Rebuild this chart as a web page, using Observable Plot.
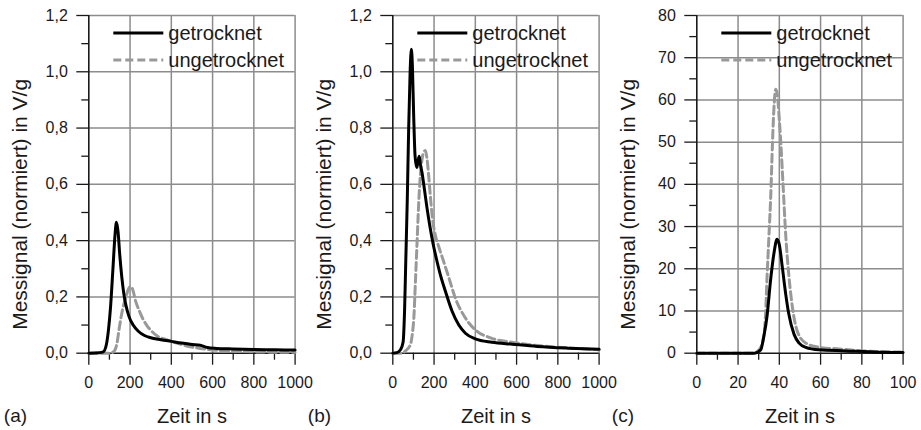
<!DOCTYPE html>
<html>
<head>
<meta charset="utf-8">
<script src="https://cdn.jsdelivr.net/npm/d3@7"></script>
<script src="https://cdn.jsdelivr.net/npm/@observablehq/plot@0.6"></script>
<style>
  html, body { margin: 0; padding: 0; background: #ffffff; }
  #root { position: relative; width: 921px; height: 430px; overflow: hidden; background: #fff; }
  .panel { position: absolute; top: 0; }
  .panel svg { overflow: visible; }
</style>
</head>
<body>
<div id="root"></div>
<script>
// ---------- data ----------
const seriesNames = ["getrocknet", "ungetrocknet"];
const yLabel = "Messignal (normiert) in V/g";
const xLabel = "Zeit in s";
const panelTags = ["(a)", "(b)", "(c)"];

// Panel (a)
const aDryT = [0, 50, 70, 85, 95, 105, 117, 127, 134, 142, 150, 160, 170, 180, 195, 215, 240, 270, 300, 350, 400, 450, 500, 540, 575, 620, 700, 800, 900, 1000];
const aDryY = [0, 0.002, 0.005, 0.03, 0.08, 0.16, 0.30, 0.42, 0.465, 0.43, 0.35, 0.27, 0.21, 0.17, 0.13, 0.10, 0.078, 0.063, 0.055, 0.048, 0.042, 0.036, 0.031, 0.028, 0.02, 0.017, 0.015, 0.013, 0.012, 0.011];
const aWetT = [0, 100, 120, 135, 150, 165, 180, 192, 202, 212, 227, 245, 260, 280, 300, 330, 380, 430, 480, 540, 620, 740, 860, 1000];
const aWetY = [0, 0, 0.005, 0.03, 0.10, 0.16, 0.20, 0.228, 0.237, 0.228, 0.185, 0.15, 0.125, 0.10, 0.082, 0.062, 0.047, 0.035, 0.025, 0.017, 0.01, 0.006, 0.004, 0.003];

// Panel (b)
const bDryT = [0, 20, 37, 50, 57, 63, 70, 77, 84, 90, 95, 101, 108, 116, 122, 128, 134, 142, 150, 165, 180, 195, 210, 230, 255, 287, 320, 352, 400, 480, 580, 700, 850, 1000];
const bDryY = [0, 0.002, 0.012, 0.04, 0.15, 0.33, 0.54, 0.80, 1.0, 1.08, 1.02, 0.85, 0.70, 0.66, 0.68, 0.70, 0.67, 0.64, 0.60, 0.52, 0.45, 0.39, 0.34, 0.28, 0.22, 0.15, 0.10, 0.071, 0.051, 0.039, 0.032, 0.024, 0.018, 0.014];
const bWetT = [0, 45, 61, 85, 95, 102, 110, 118, 126, 134, 142, 150, 158, 166, 174, 183, 192, 206, 222, 240, 271, 303, 352, 400, 480, 577, 706, 868, 1000];
const bWetY = [0, 0, 0.008, 0.03, 0.07, 0.125, 0.26, 0.40, 0.54, 0.635, 0.69, 0.715, 0.72, 0.69, 0.63, 0.55, 0.48, 0.42, 0.38, 0.34, 0.27, 0.196, 0.125, 0.083, 0.053, 0.039, 0.027, 0.018, 0.012];

// Panel (c)
const cDryT = [0, 28, 31, 32.5, 34.1, 35.7, 37.5, 38.9, 40, 41.5, 43.1, 44.5, 47.2, 49.6, 52.8, 59.3, 72, 88, 100];
const cDryY = [0, 0, 0.8, 4, 9, 17, 24, 27, 25.7, 20.2, 14, 9.5, 4.4, 2.4, 1.4, 0.8, 0.55, 0.24, 0.16];
const cWetT = [0, 27, 30.2, 32.6, 33.3, 34.1, 34.9, 35.9, 36.7, 37.5, 38.3, 39.1, 39.9, 40.7, 41.8, 43.1, 44.7, 46.4, 48.8, 52.8, 59.3, 69, 80.3, 88, 100];
const cWetY = [0, 0, 0.8, 4.4, 9, 18.6, 27, 38, 50, 59, 62.5, 61, 56, 50, 40, 28, 18, 10.7, 5.1, 2.4, 1.4, 1.0, 0.55, 0.4, 0.24];

// axis ticks
const abXMajor = [0, 200, 400, 600, 800, 1000];
const abXMinor = [100, 300, 500, 700, 900];
const abYMajor = [0, 0.2, 0.4, 0.6, 0.8, 1.0, 1.2];
const abYMinor = [0.1, 0.3, 0.5, 0.7, 0.9, 1.1];
const cXMajor = [0, 20, 40, 60, 80, 100];
const cXMinor = [10, 30, 50, 70, 90];
const cYMajor = [0, 10, 20, 30, 40, 50, 60, 70, 80];
const cYMinor = [5, 15, 25, 35, 45, 55, 65, 75];

// ---------- drawing ----------
const toRows = (T, Y) => T.map((t, i) => ({t, v: Y[i]}));
const commaFmt = d => d3.format(".1f")(d).replace(".", ",");
const intFmt = d => String(d);

const FONT = "'Liberation Sans', Arial, Helvetica, sans-serif";
const GRID = "#8c8c8c";
const INK = "#1a1a1a";
const WET = "#999999";

const panels = [
  {left: 0, tag: panelTags[0], dry: toRows(aDryT, aDryY), wet: toRows(aWetT, aWetY),
   xDom: [0, 1000], yDom: [0, 1.2], xMaj: abXMajor, xMin: abXMinor, yMaj: abYMajor, yMin: abYMinor, yFmt: commaFmt},
  {left: 304, tag: panelTags[1], dry: toRows(bDryT, bDryY), wet: toRows(bWetT, bWetY),
   xDom: [0, 1000], yDom: [0, 1.2], xMaj: abXMajor, xMin: abXMinor, yMaj: abYMajor, yMin: abYMinor, yFmt: commaFmt},
  {left: 608, tag: panelTags[2], dry: toRows(cDryT, cDryY), wet: toRows(cWetT, cWetY),
   xDom: [0, 100], yDom: [0, 80], xMaj: cXMajor, xMin: cXMinor, yMaj: cYMajor, yMin: cYMinor, yFmt: intFmt}
];

const W = 307, H = 430, ML = 88.3, MR = 12.4, MT = 15, MB = 77.3;
const root = document.getElementById("root");

for (const p of panels) {
  const chart = Plot.plot({
    width: W, height: H,
    marginLeft: ML, marginRight: MR, marginTop: MT, marginBottom: MB,
    style: {background: "transparent", overflow: "visible", fontFamily: FONT, color: INK},
    x: {domain: p.xDom},
    y: {domain: p.yDom},
    marks: [
      Plot.gridX(p.xMaj.slice(1), {stroke: GRID, strokeOpacity: 1, strokeWidth: 1.5}),
      Plot.gridY(p.yMaj.slice(1), {stroke: GRID, strokeOpacity: 1, strokeWidth: 1.5}),
      Plot.axisX(p.xMaj, {tickSize: 12, tickPadding: 11, fontSize: 16, tickFormat: intFmt, label: null, strokeWidth: 1.3}),
      Plot.axisX(p.xMin, {tickSize: 7, tickFormat: () => "", label: null, strokeWidth: 1.3}),
      Plot.axisY(p.yMaj, {tickSize: 12, tickPadding: 9, fontSize: 16, tickFormat: p.yFmt, label: null, strokeWidth: 1.3}),
      Plot.axisY(p.yMin, {tickSize: 7, tickFormat: () => "", label: null, strokeWidth: 1.3}),
      Plot.ruleX([p.xDom[0]], {stroke: INK, strokeWidth: 1.6}),
      Plot.ruleY([p.yDom[0]], {stroke: INK, strokeWidth: 1.6}),
      Plot.line(p.wet, {x: "t", y: "v", stroke: WET, strokeWidth: 3, strokeDasharray: "8,4", curve: "monotone-x"}),
      Plot.line(p.dry, {x: "t", y: "v", stroke: "#000", strokeWidth: 3, curve: "monotone-x"}),
      Plot.text([yLabel], {frameAnchor: "left", rotate: -90, dx: -69, dy: 20, fontSize: 21, textAnchor: "middle", lineAnchor: "middle", fill: INK}),
      Plot.text([xLabel], {frameAnchor: "bottom", dy: 63, fontSize: 20, textAnchor: "middle", lineAnchor: "middle", fill: INK}),
      Plot.text([p.tag], {frameAnchor: "bottom-left", dx: -85, dy: 63, fontSize: 19, textAnchor: "start", lineAnchor: "middle", fill: INK})
    ]
  });

  // legend (drawn into the plot svg, relative to the frame)
  const svg = d3.select(chart);
  const lg = svg.append("g").attr("font-family", FONT).attr("font-size", 20)
    .attr("fill", INK).attr("text-anchor", "start");
  const styles = [{stroke: "#000", dash: null}, {stroke: WET, dash: "8,4"}];
  seriesNames.forEach((name, i) => {
    const y = MT + 18 + i * 27;
    lg.append("line").attr("x1", ML + 25).attr("x2", ML + 75).attr("y1", y).attr("y2", y)
      .attr("stroke", styles[i].stroke).attr("stroke-width", 3).attr("stroke-dasharray", styles[i].dash);
    lg.append("text").attr("x", ML + 80).attr("y", y).attr("dy", "0.35em").text(name);
  });

  const div = document.createElement("div");
  div.className = "panel";
  div.style.left = p.left + "px";
  div.appendChild(chart);
  root.appendChild(div);
}
</script>
</body>
</html>
